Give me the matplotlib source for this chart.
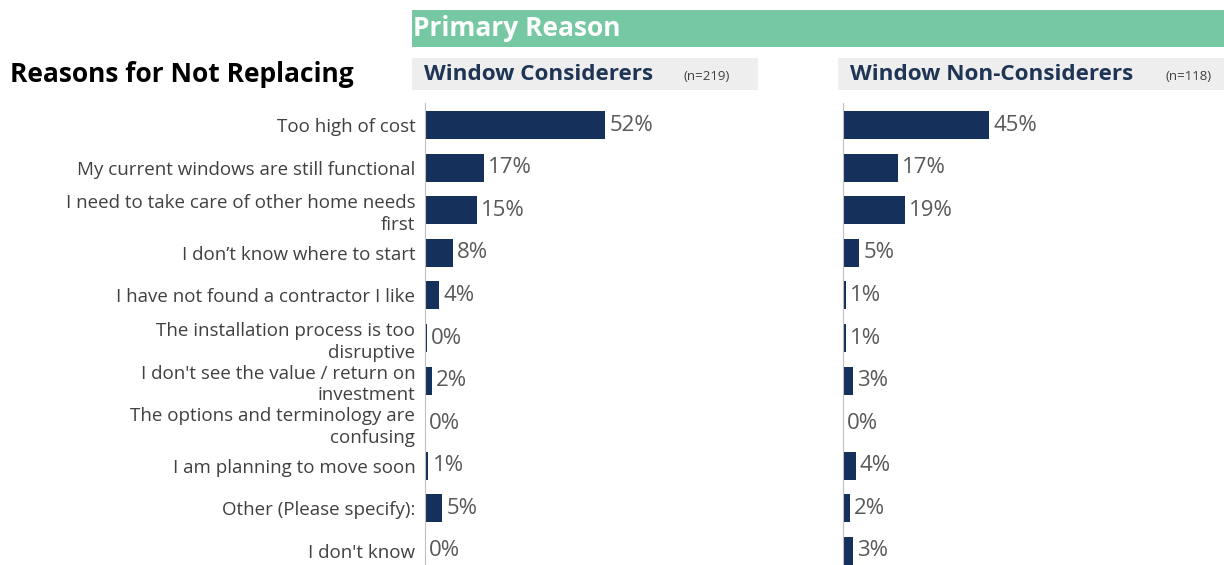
import matplotlib.pyplot as plt
from matplotlib.patches import Rectangle

plt.rcParams['font.family'] = ['Open Sans', 'DejaVu Sans']

reasons = [
    "Too high of cost",
    "My current windows are still functional",
    "I need to take care of other home needs\nfirst",
    "I don\u2019t know where to start",
    "I have not found a contractor I like",
    "The installation process is too\ndisruptive",
    "I don't see the value / return on\ninvestment",
    "The options and terminology are\nconfusing",
    "I am planning to move soon",
    "Other (Please specify):",
    "I don't know",
]
considerers = [52, 17, 15, 8, 4, 0.5, 2, 0, 1, 5, 0]
non_considerers = [45, 17, 19, 5, 1, 1, 3, 0, 4, 2, 3]

navy = "#15305A"
label_grey = "#404040"
value_grey = "#595959"

W, H = 1224, 565
fig = plt.figure(figsize=(W / 100, H / 100), dpi=100)


def px_axes(x0, y0, x1, y1):
    # axes placed by pixel box (top-left origin)
    return fig.add_axes([x0 / W, 1 - y1 / H, (x1 - x0) / W, (y1 - y0) / H])


# banner and panel headers
bg = fig.add_axes([0, 0, 1, 1])
bg.set_xlim(0, W)
bg.set_ylim(H, 0)
bg.axis("off")
bg.add_patch(Rectangle((412, 10), W - 412, 37, color="#76C8A3", lw=0))
bg.text(413, 29, "Primary Reason", color="white", fontsize=19,
        fontweight="bold", va="center", ha="left")
bg.text(10, 75, "Reasons for Not Replacing", color="black", fontsize=19,
        fontweight="bold", va="center", ha="left")
for x0, x1, name, n, nx in [(412, 758, "Window Considerers", "(n=219)", 683),
                            (838, W, "Window Non-Considerers", "(n=118)", 1165)]:
    bg.add_patch(Rectangle((x0, 58), x1 - x0, 32, color="#EEEEEE", lw=0))
    bg.text(x0 + 12, 74, name, color="#1F3556", fontsize=16.2,
            fontweight="bold", va="center", ha="left")
    bg.text(nx, 76, n, color="#404040", fontsize=9.5, va="center", ha="left")

rows = list(range(len(reasons)))
top, bottom = 103, 565
first, step = 125, 42.6
ylim = ((bottom - first) / step, -(first - top) / step)


def panel(x0, x1, scale, values, show_labels):
    ax = px_axes(x0, top, x1, bottom)
    ax.barh(rows, values, height=0.66, color=navy)
    ax.set_xlim(0, (x1 - x0) / scale)
    ax.set_ylim(*ylim)
    for s in ["top", "right", "bottom"]:
        ax.spines[s].set_visible(False)
    ax.spines["left"].set_color("#BFBFBF")
    ax.spines["left"].set_linewidth(0.8)
    ax.set_xticks([])
    ax.tick_params(axis="y", length=0, pad=7)
    ax.set_yticks(rows)
    if show_labels:
        ax.set_yticklabels(reasons, fontsize=13.5, color=label_grey,
                           linespacing=1.25)
    else:
        ax.set_yticklabels([])
    for r, v in zip(rows, values):
        ax.text(v + 1.2, r, f"{round(v)}%", color=value_grey, fontsize=16,
                va="center", ha="left")
    ax.patch.set_alpha(0)
    return ax


panel(425, 760, 3.47, considerers, True)
panel(843, W, 3.25, non_considerers, False)

fig.savefig("out.png", dpi=100)
